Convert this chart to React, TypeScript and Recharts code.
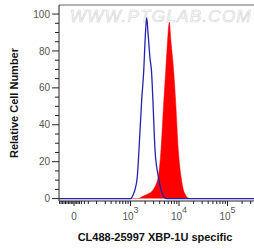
import React from 'react';
import { ComposedChart, Area, XAxis, YAxis, ReferenceLine } from 'recharts';

// Isotype control (blue outline) — x in log10 display units, y relative cell number
const blueLogIntensity = [1.526, 2.9, 3.0103, 3.0247, 3.0619, 3.0928, 3.1402, 3.1753, 3.2309, 3.2722, 3.3052, 3.334, 3.3608, 3.402, 3.433, 3.464, 3.505, 3.573, 3.629, 3.67, 3.711, 3.753, 3.9, 5.546];
const blueCount = [0, 0, 0, 0.5, 2.5, 4.9, 12, 26.5, 53.5, 69, 88, 98, 90, 76, 69, 52, 26.5, 12, 4.9, 2, 0.3, 0, 0, 0];

// CL488-25997 XBP-1U stained (red filled)
const redLogIntensity = [1.526, 3.0, 3.1546, 3.2639, 3.3608, 3.4701, 3.5732, 3.6289, 3.6866, 3.7258, 3.7629, 3.8, 3.8351, 3.8907, 3.932, 3.9856, 4.0412, 4.0887, 4.134, 4.1918, 4.2474, 5.546];
const redCount = [0, 0, 0, 1.4, 2.5, 4.9, 12, 26.5, 53, 69, 85, 95.5, 85, 69, 52, 26.5, 12, 4.9, 2, 0.3, 0, 0];

const yTickValues = [0, 5, 10, 15, 20, 25, 30, 35, 40, 45, 50, 55, 60, 65, 70, 75, 80, 85, 90, 95, 100];
const yMajorTicks = [0, 20, 40, 60, 80, 100];
const yMajorLabels = ['0', '20', '40', '60', '80', '100'];

const xMajorTicks = [1.835, 3, 4, 5];
const xMajorBase = ['0', '10', '10', '10'];
const xMajorExponents = ['', '3', '4', '5'];
const xLinearMinorTicks = [1.54, 1.57, 1.6, 1.63, 1.66, 1.69, 1.72, 1.75, 1.78, 1.81, 1.86, 1.89, 1.92, 1.95, 1.99, 2.05, 2.13];
const xLowDecadeMinorTicks = [2.3, 2.48, 2.6, 2.7, 2.78, 2.84, 2.9, 2.95];
const xDecadeMultipliers = [2, 3, 4, 5, 6, 7, 8, 9];

const X_DOMAIN: [number, number] = [1.526, 5.546];
const Y_DOMAIN: [number, number] = [-1.3, 104.9];

const decadeMinors: number[] = [];
[3, 4, 5].forEach((d) => {
  xDecadeMultipliers.forEach((m) => {
    const v = d + Math.log10(m);
    if (v < X_DOMAIN[1]) decadeMinors.push(v);
  });
});
const xAllTicks = [...xLinearMinorTicks, ...xLowDecadeMinorTicks, ...xMajorTicks, ...decadeMinors].sort((a, b) => a - b);

const blueData = blueLogIntensity.map((x, i) => ({ x, count: blueCount[i] }));
const redData = redLogIntensity.map((x, i) => ({ x, count: redCount[i] }));

const FONT = '"Liberation Sans", Arial, Helvetica, sans-serif';

const YTick = (props: any) => {
  const { x, y, payload } = props;
  const idx = yMajorTicks.indexOf(payload.value);
  const major = idx >= 0;
  return (
    <g>
      <line x1={x - (major ? 7 : 4)} x2={x} y1={y} y2={y} stroke="#222" strokeWidth={1} />
      {major && (
        <text x={x - 9} y={y} dy="0.36em" textAnchor="end" fontSize={10} fill="#555" fontFamily={FONT}>
          {yMajorLabels[idx]}
        </text>
      )}
    </g>
  );
};

const XTick = (props: any) => {
  const { x, y, payload } = props;
  const idx = xMajorTicks.indexOf(payload.value);
  const major = idx >= 0;
  return (
    <g>
      <line x1={x} x2={x} y1={y} y2={y + (major ? 5 : 3)} stroke="#222" strokeWidth={1} />
      {major && (
        <text x={x} y={y + 19} textAnchor="middle" fontSize={10} fill="#555" fontFamily={FONT}>
          <tspan>{xMajorBase[idx]}</tspan>
          {xMajorExponents[idx] && (
            <tspan dy={-7} fontSize={9}>
              {xMajorExponents[idx]}
            </tspan>
          )}
        </text>
      )}
    </g>
  );
};

export default function App() {
  return (
    <div style={{ position: 'absolute', left: 0, top: 0, width: 254, height: 249, background: '#fff' }}>
      <div
        style={{
          position: 'absolute',
          left: 70,
          top: 8,
          fontFamily: FONT,
          fontSize: 17,
          lineHeight: '17px',
          letterSpacing: 1.3,
          fontStyle: 'italic',
          color: '#ffffff',
          WebkitTextStroke: '0.6px #d2d2d2',
          whiteSpace: 'nowrap',
        }}
      >
        WWW.PTGLAB.COM
      </div>
      <div style={{ position: 'absolute', left: 0, top: 0 }}>
        <ComposedChart width={254} height={249} margin={{ top: 5, right: 0, bottom: 0, left: 0 }}>
          <XAxis
            dataKey="x"
            type="number"
            domain={X_DOMAIN}
            allowDataOverflow
            ticks={xAllTicks}
            interval={0}
            tickLine={false}
            tickSize={0}
            tickMargin={0}
            tick={(p: any) => <XTick {...p} />}
            height={48}
            axisLine={{ stroke: '#222', strokeWidth: 1 }}
            label={{
              content: () => (
                <text x={155} y={240.5} textAnchor="middle" fontSize={11} fontWeight="bold" fill="#111" fontFamily={FONT}>
                  CL488-25997 XBP-1U specific
                </text>
              ),
            }}
          />
          <YAxis
            type="number"
            domain={Y_DOMAIN}
            allowDataOverflow
            ticks={yTickValues}
            interval={0}
            tickLine={false}
            tickSize={0}
            tickMargin={0}
            tick={(p: any) => <YTick {...p} />}
            width={59}
            axisLine={{ stroke: '#222', strokeWidth: 1 }}
            label={{
              content: () => (
                <text
                  x={14}
                  y={103}
                  transform="rotate(-90 14 103)"
                  textAnchor="middle"
                  dy="0.36em"
                  fontSize={11}
                  fontWeight="bold"
                  fill="#111"
                  fontFamily={FONT}
                >
                  Relative Cell Number
                </text>
              ),
            }}
          />
          <ReferenceLine y={Y_DOMAIN[1]} stroke="#666" strokeWidth={1} ifOverflow="extendDomain" />
          <Area
            data={redData}
            dataKey="count"
            type="monotone"
            stroke="#ff0000"
            strokeWidth={0.5}
            fill="#ff0000"
            fillOpacity={1}
            dot={false}
            activeDot={false}
            isAnimationActive={false}
          />
          <Area
            data={blueData}
            dataKey="count"
            type="monotone"
            stroke="#2323b0"
            strokeWidth={1.3}
            fill="none"
            dot={false}
            activeDot={false}
            isAnimationActive={false}
          />
        </ComposedChart>
      </div>
    </div>
  );
}
